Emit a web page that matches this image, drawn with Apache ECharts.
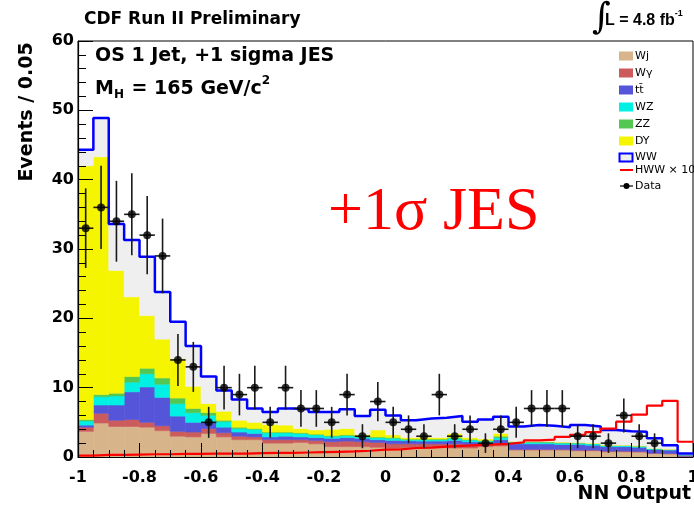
<!DOCTYPE html>
<html><head><meta charset="utf-8">
<script src="https://cdn.jsdelivr.net/npm/echarts/dist/echarts.min.js"></script>
<style>html,body{margin:0;padding:0;background:#fff}#c{width:694px;height:506px}</style>
</head><body><div id="c"></div>
<script>
// ---- data (40 bins of width 0.05 from -1 to 1) ----
const binLow = -1, binWidth = 0.05, nBins = 40;
const Wj = [3.7,4.9,4.4,4.4,4.3,3.8,3.0,2.9,3.4,2.9,2.5,2.5,2.0,2.0,2.1,1.9,1.5,1.5,1.5,1.4,1.25,1.35,1.35,1.35,1.3,1.3,1.5,1.6,1.0,1.0,1.0,1.0,0.9,0.9,0.75,0.75,0.7,0.5,0.45,0.1];
const Wg = [0.6,1.4,0.9,1.0,0.7,0.7,0.7,0.7,0.7,0.6,0.5,0.4,0.5,0.5,0.4,0.5,0.7,0.8,0.7,0.7,0.65,0.55,0.55,0.55,0.6,0.5,0.3,0.4,0.1,0.1,0.1,0.1,0.1,0.1,0.1,0.1,0.1,0.05,0.05,0.02];
const tt = [0.3,1.2,2.2,4.0,5.1,4.1,2.2,1.4,0.9,0.8,0.6,0.5,0.4,0.5,0.4,0.4,0.5,0.5,0.5,0.4,0.5,0.45,0.4,0.4,0.5,0.4,0.3,0.5,0.8,0.8,0.8,0.7,0.8,0.7,0.65,0.65,0.6,0.55,0.5,0.18];
const WZ = [0.6,1.2,1.3,1.4,1.9,1.9,1.8,1.4,1.0,0.8,0.5,0.6,0.6,0.5,0.5,0.4,0.3,0.3,0.2,0.3,0.3,0.15,0.2,0.2,0.3,0.25,0.2,0.3,0.25,0.25,0.2,0.2,0.2,0.2,0.15,0.15,0.15,0.1,0.1,0.03];
const ZZ = [0.2,0.3,0.4,0.8,0.8,0.9,0.8,0.6,0.4,0.2,0.2,0.1,0.1,0.1,0.1,0.1,0.1,0.1,0.1,0.1,0.1,0.1,0.1,0.1,0.1,0.1,0.1,0.2,0.05,0.05,0.1,0.1,0.05,0.05,0.05,0.05,0.05,0.02,0.02,0.01];
const DY = [36.6,34.3,17.7,11.5,7.6,5.6,5.7,3.2,1.3,1.3,1.0,0.9,1.1,1.0,0.6,0.6,0.9,0.9,0.2,1.0,0.4,0.2,0.25,0.2,0.6,0.25,0.2,0.4,0.05,0.05,0.05,0.05,0.05,0.05,0.02,0.02,0.02,0.02,0.02,0.01];
const WW = [2.3,5.6,6.7,8.2,8.5,6.8,5.3,5.8,3.9,3.0,3.0,2.0,1.8,2.4,2.8,2.6,2.5,2.8,2.7,2.9,2.8,2.5,2.7,2.85,2.5,2.3,2.8,2.4,2.15,2.35,2.25,2.15,2.5,2.4,2.18,1.98,2.03,1.46,0.56,0.15];
const HWWx10 = [0.2,0.3,0.3,0.35,0.4,0.4,0.45,0.45,0.5,0.5,0.5,0.55,0.6,0.6,0.65,0.7,0.75,0.8,0.9,1.05,1.1,1.3,1.35,1.5,1.6,1.7,1.8,1.9,2.1,2.4,2.5,2.9,3.2,3.6,4.1,5.1,6.1,7.4,8.1,2.2];
const Data = [33,36,34,35,32,29,14,13,5,10,9,10,5,10,7,7,5,9,3,8,5,4,3,9,3,4,2,4,5,7,7,7,3,3,2,6,3,2,0,0];
const xTicks = {min:-1, max:1, step:0.2};
const yTicks = {min:0, max:60, step:10};
const legendNames = ['Wj','Wγ','tt\u0304','WZ','ZZ','DY','WW','HWW × 10','Data'];

const colors = {Wj:'#D8B48A', Wg:'#CC5C5C', tt:'#5555DA', WZ:'#00F0E4', ZZ:'#52C852', DY:'#F5F500', WW:'#EFEFEF'};
const edge = i => +(binLow + i*binWidth).toFixed(4);

const comps = [
  {vals:Wj, color:colors.Wj}, {vals:Wg, color:colors.Wg}, {vals:tt, color:colors.tt},
  {vals:WZ, color:colors.WZ}, {vals:ZZ, color:colors.ZZ}, {vals:DY, color:colors.DY},
  {vals:WW, color:colors.WW}
];
const series = [];
let base = new Array(nBins).fill(0);
comps.forEach(c => {
  const data = c.vals.map((v,i) => [edge(i), edge(i+1), base[i], base[i]+v]);
  base = base.map((b,i) => b + c.vals[i]);
  series.push({
    type:'custom', silent:true, animation:false, clip:true,
    encode:{x:[0,1], y:[2,3]},
    data,
    renderItem:(p, api) => {
      const a = api.coord([api.value(0), api.value(3)]);
      const b = api.coord([api.value(1), api.value(2)]);
      return {type:'rect', shape:{x:a[0], y:a[1], width:b[0]-a[0], height:b[1]-a[1]},
        style:{fill:c.color, stroke:c.color, lineWidth:0.6}};
    }
  });
});
const total = base;
const stepData = arr => arr.map((v,i)=>[edge(i), v]).concat([[edge(nBins), arr[nBins-1]]]);
series.push({type:'line', step:'end', data:stepData(total), symbol:'none', animation:false, silent:true,
  lineStyle:{color:'#0000FF', width:2.5}, z:5});
series.push({type:'line', step:'end', data:stepData(HWWx10), symbol:'none', animation:false, silent:true,
  lineStyle:{color:'#FF0000', width:2.2}, z:6});
const pts = [];
Data.forEach((n,i) => { if (n > 0) pts.push([+(edge(i)+binWidth/2).toFixed(4), n, Math.sqrt(n)]); });
series.push({
  type:'custom', animation:false, silent:true, z:7, clip:false,
  encode:{x:0, y:1}, data:pts,
  renderItem:(p, api) => {
    const x = api.value(0), y = api.value(1), e = api.value(2);
    const c = api.coord([x,y]), t = api.coord([x,y+e]), b = api.coord([x,Math.max(0,y-e)]);
    const l = api.coord([x-binWidth/2,y]), r = api.coord([x+binWidth/2,y]);
    const st = {stroke:'#1a1a1a', lineWidth:1.6};
    return {type:'group', children:[
      {type:'line', shape:{x1:c[0],y1:t[1],x2:c[0],y2:b[1]}, style:st},
      {type:'line', shape:{x1:l[0],y1:c[1],x2:r[0],y2:c[1]}, style:st}
    ]};
  }
});
series.push({type:'scatter', data:pts.map(p=>[p[0],p[1]]), symbol:'circle', symbolSize:8,
  itemStyle:{color:'#000'}, animation:false, silent:true, z:8});

// ---- text helpers ----
const cv = document.createElement('canvas').getContext('2d');
const tw = (s, f) => { cv.font = f; return cv.measureText(s).width; };
const SANS = 'DejaVu Sans';
const g = [];
const txt = (x,y,s,font,opt={}) => g.push(Object.assign({type:'text', x, y, silent:true, z:100,
  style:Object.assign({text:s, font, fill:'#000', align:'left', verticalAlign:'middle'}, opt.style||{})}, opt.el||{}));

txt(84, 20, 'CDF Run II Preliminary', 'bold 17px "'+SANS+'"');
txt(95, 56, 'OS 1 Jet, +1 sigma JES', 'bold 19px "'+SANS+'"');
// M_H = 165 GeV/c^2
{
  const f = 'bold 19px "'+SANS+'"', fs = 'bold 12px "'+SANS+'"';
  let x = 95; const y = 89;
  txt(x, y, 'M', f); x += tw('M', f);
  txt(x, y+6, 'H', fs); x += tw('H', fs) + 1;
  txt(x, y, ' = 165 GeV/c', f); x += tw(' = 165 GeV/c', f);
  txt(x, y-8, '2', fs);
}
txt(328, 213, '+1σ JES', '62px "Liberation Serif"', {style:{fill:'#FF0000'}});
// integrated luminosity
txt(592, 19, '∫', '36px "DejaVu Serif"');
{
  const f = 'bold 16px "Liberation Sans"', fs = 'bold 9px "Liberation Sans"';
  let x = 605;
  txt(x, 21, 'L = 4.8 fb', f); x += tw('L = 4.8 fb', f);
  txt(x, 14, '-1', fs);
}
// axis titles
txt(27, 112, 'Events / 0.05', 'bold 19px "'+SANS+'"', {style:{align:'center'}, el:{rotation:Math.PI/2}});
txt(691, 494, 'NN Output', 'bold 19px "'+SANS+'"', {style:{align:'right'}});

// legend
const legY = [56, 73, 90, 107, 124, 141, 157.5, 170, 186];
const legCols = [colors.Wj, colors.Wg, colors.tt, colors.WZ, colors.ZZ, colors.DY];
const lf = '11px "'+SANS+'"';
legendNames.forEach((nm,i) => {
  const y = legY[i];
  if (i < 6) g.push({type:'rect', silent:true, z:100, shape:{x:619, y:y-4.5, width:14, height:9}, style:{fill:legCols[i]}});
  else if (i === 6) g.push({type:'rect', silent:true, z:100, shape:{x:619.5, y:y-4, width:13, height:8}, style:{fill:colors.WW, stroke:'#0000FF', lineWidth:2}});
  else if (i === 7) g.push({type:'line', silent:true, z:100, shape:{x1:620, y1:y, x2:633, y2:y}, style:{stroke:'#FF0000', lineWidth:2}});
  else {
    g.push({type:'line', silent:true, z:100, shape:{x1:620, y1:y, x2:633, y2:y}, style:{stroke:'#000', lineWidth:1.2}});
    g.push({type:'circle', silent:true, z:100, shape:{cx:626.5, cy:y, r:3}, style:{fill:'#000'}});
  }
  txt(635, y, nm, lf);
});

const lab = {color:'#000', fontWeight:'bold', fontFamily:SANS, fontSize:16};
const chart = echarts.init(document.getElementById('c'), null, {renderer:'canvas'});
chart.setOption({
  animation:false,
  backgroundColor:'#fff',
  grid:{left:78, right:1, top:41, bottom:49, show:true, borderColor:'#000', borderWidth:1, backgroundColor:'transparent',
    containLabel:false, outerBoundsMode:'none'},
  xAxis:{type:'value', min:xTicks.min, max:xTicks.max, interval:xTicks.step, z:10,
    axisLine:{show:true, onZero:false, lineStyle:{color:'#000', width:1.2}},
    axisTick:{show:true, inside:true, length:14, lineStyle:{color:'#000', width:1}},
    minorTick:{show:true, splitNumber:4, length:7, lineStyle:{color:'#000', width:1}},
    splitLine:{show:false},
    axisLabel:Object.assign({margin:13, hideOverlap:false, formatter:v => { const r = Math.round(v*10)/10; return String(r); }}, lab)},
  yAxis:{type:'value', min:yTicks.min, max:yTicks.max, interval:yTicks.step, z:10,
    axisLine:{show:true, onZero:false, lineStyle:{color:'#000', width:1.2}},
    axisTick:{show:true, inside:true, length:15, lineStyle:{color:'#000', width:1}},
    minorTick:{show:true, splitNumber:5, length:8, lineStyle:{color:'#000', width:1}},
    splitLine:{show:false},
    axisLabel:Object.assign({margin:4}, lab)},
  series,
  graphic:g
});
</script>
</body></html>
